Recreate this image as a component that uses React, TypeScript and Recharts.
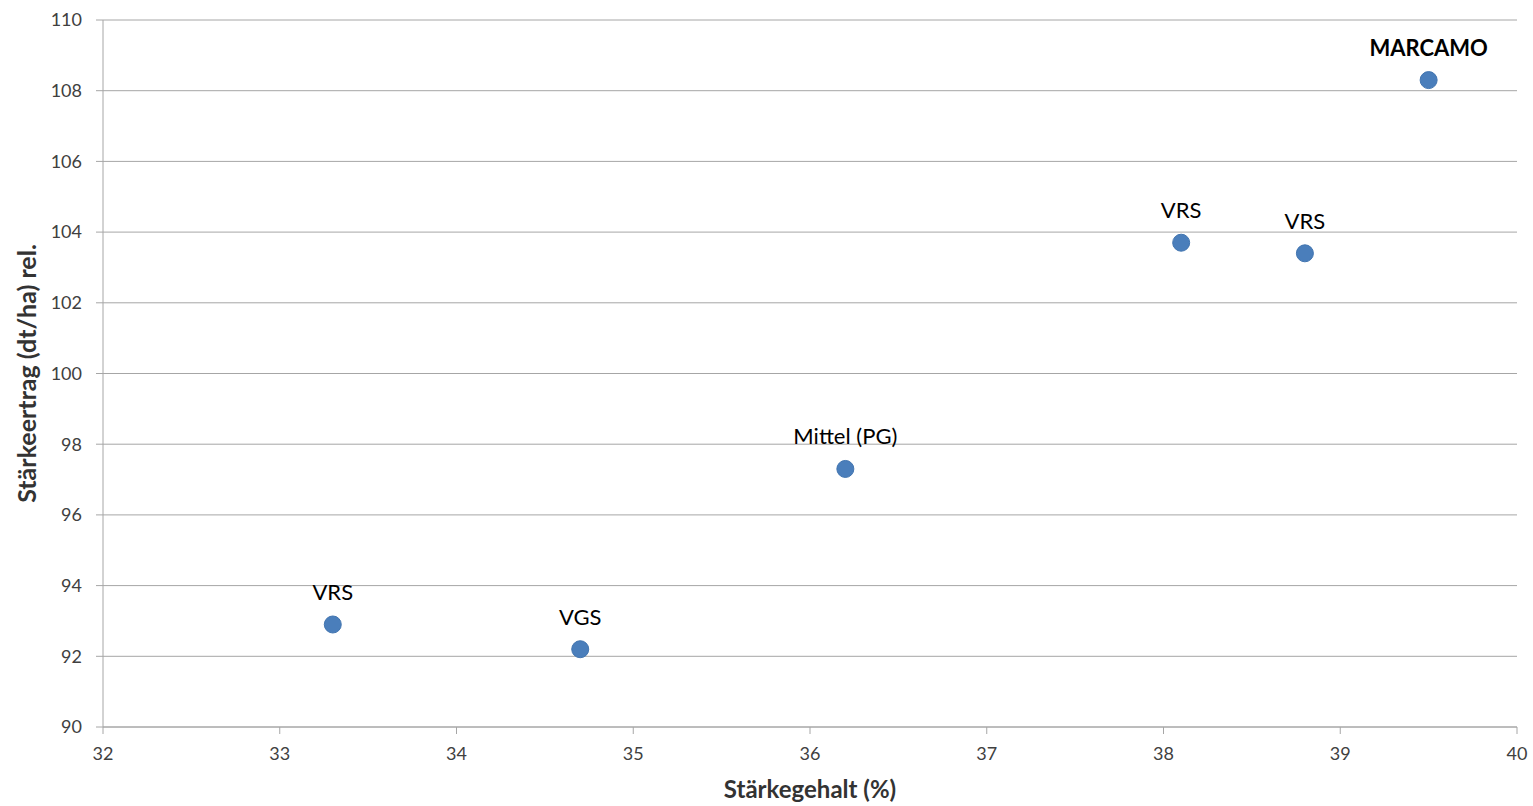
import React from "react";
import { ScatterChart, Scatter, XAxis, YAxis, CartesianGrid, LabelList } from "recharts";

const names = ["VRS", "VGS", "Mittel (PG)", "VRS", "VRS", "MARCAMO"];
const starchContent = [33.3, 34.7, 36.2, 38.1, 38.8, 39.5];
const starchYield = [92.9, 92.2, 97.3, 103.7, 103.4, 108.3];
const boldNames = ["MARCAMO"];
const xTicks = [32, 33, 34, 35, 36, 37, 38, 39, 40];
const yTicks = [90, 92, 94, 96, 98, 100, 102, 104, 106, 108, 110];

const data = names.map((n, i) => ({ name: n, x: starchContent[i], y: starchYield[i] }));

const FONT = "Lato, 'Open Sans', sans-serif";
const GRID = "#a6a6a6";

const PointLabel = (props: any) => {
  const { x, y, width, value } = props;
  const cx = x + (width || 0) / 2;
  const bold = boldNames.includes(value);
  return (
    <text
      x={cx}
      y={y - 20}
      textAnchor="middle"
      fontFamily={FONT}
      fontSize={22}
      fontWeight={bold ? 700 : 400}
      fill="#000"
    >
      {value}
    </text>
  );
};

export default function App() {
  return (
    <div style={{ position: "absolute", left: 0, top: 0, width: 1533, height: 806, background: "#fff" }}>
      <ScatterChart width={1533} height={806} margin={{ top: 20, right: 16, bottom: 3, left: 43 }}>
        <CartesianGrid horizontal={true} vertical={false} stroke={GRID} strokeDasharray="" />
        <XAxis
          type="number"
          dataKey="x"
          domain={[32, 40]}
          ticks={xTicks}
          interval={0}
          height={76}
          stroke={GRID}
          tickSize={7}
          tickMargin={13}
          tick={{ fill: "#404040", fontSize: 18, fontFamily: FONT }}
          label={{
            value: "Stärkegehalt (%)",
            position: "insideBottom",
            offset: 5,
            style: { fill: "#333", fontSize: 24, fontWeight: 700, fontFamily: FONT },
          }}
        />
        <YAxis
          type="number"
          dataKey="y"
          domain={[90, 110]}
          ticks={yTicks}
          interval={0}
          width={60}
          stroke={GRID}
          tickSize={7}
          tickMargin={14}
          tick={{ fill: "#404040", fontSize: 18, fontFamily: FONT }}
          label={{
            value: "Stärkeertrag (dt/ha) rel.",
            angle: -90,
            position: "insideLeft",
            offset: 0,
            dx: -16,
            style: { textAnchor: "middle", fill: "#333", fontSize: 25, fontWeight: 700, fontFamily: FONT },
          }}
        />
        <Scatter
          data={data}
          isAnimationActive={false}
          shape={(p: any) => <circle cx={p.cx} cy={p.cy} r={8.5} fill="#4a7ebb" stroke="#4275b0" strokeWidth={1} />}
        >
          <LabelList dataKey="name" content={PointLabel} />
        </Scatter>
      </ScatterChart>
    </div>
  );
}
